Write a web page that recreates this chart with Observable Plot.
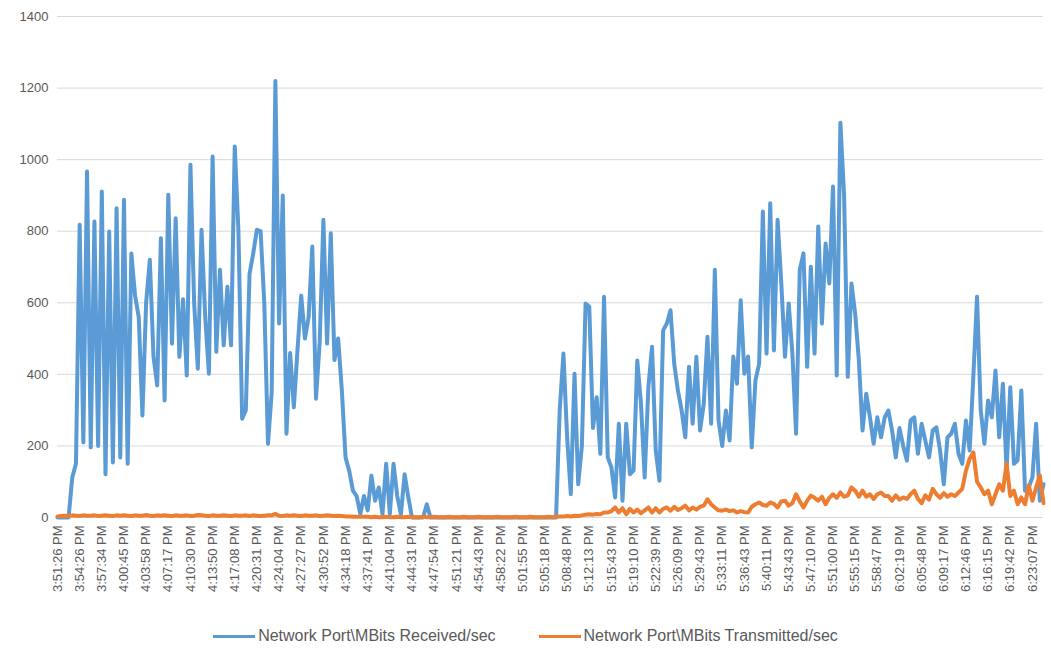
<!DOCTYPE html>
<html><head><meta charset="utf-8">
<script src="https://cdn.jsdelivr.net/npm/d3@7"></script>
<script src="https://cdn.jsdelivr.net/npm/@observablehq/plot@0.6"></script>
<style>
body{margin:0;background:#fff;font-family:"Liberation Sans",Arial,sans-serif;}
#legend{display:flex;justify-content:center;gap:43px;margin-top:12px;font-size:16px;color:#595959;line-height:18px;}
.item{display:flex;align-items:center;}
.sw{display:inline-block;width:42px;height:3px;margin-right:3px;}
</style></head><body>
<div id="chart"></div>
<div id="legend"></div>
<script>
const timeLabels = ["3:51:26 PM","3:54:26 PM","3:57:34 PM","4:00:45 PM","4:03:58 PM","4:07:17 PM","4:10:30 PM","4:13:50 PM","4:17:08 PM","4:20:31 PM","4:24:04 PM","4:27:27 PM","4:30:52 PM","4:34:18 PM","4:37:41 PM","4:41:04 PM","4:44:31 PM","4:47:54 PM","4:51:21 PM","4:54:43 PM","4:58:22 PM","5:01:55 PM","5:05:18 PM","5:08:48 PM","5:12:13 PM","5:15:43 PM","5:19:10 PM","5:22:39 PM","5:26:09 PM","5:29:43 PM","5:33:11 PM","5:36:43 PM","5:40:11 PM","5:43:43 PM","5:47:10 PM","5:51:00 PM","5:55:15 PM","5:58:47 PM","6:02:19 PM","6:05:48 PM","6:09:17 PM","6:12:46 PM","6:16:15 PM","6:19:42 PM","6:23:07 PM"];
const labelStep = 6;
const seriesNames = ["Network Port\\MBits Received/sec","Network Port\\MBits Transmitted/sec"];
const seriesColors = ["#5B9BD5","#ED7D31"];
const yTicks = [0,200,400,600,800,1000,1200,1400];

const received = [
0,0,0,0,112,150,818,210,967,196,
827,200,911,121,799,154,864,168,888,150,
738,620,560,285,600,720,449,369,780,327,
902,486,836,449,610,397,986,600,416,804,
560,402,1009,463,692,481,645,481,1037,800,
276,300,680,738,804,800,598,206,350,1220,
542,900,234,460,308,470,620,500,560,757,
332,490,832,486,794,440,500,355,168,130,
75,60,10,60,20,117,47,84,9,150,
10,150,60,9,121,56,0,0,0,0,
37,0,0,0,0,0,0,0,0,0,
0,0,0,0,0,0,0,0,0,0,
0,0,0,0,0,0,0,0,0,0,
0,0,0,0,0,0,300,458,224,65,
402,93,200,598,589,250,336,178,617,168,
140,56,262,47,262,121,131,439,318,112,
364,477,187,103,523,542,579,430,355,300,
224,421,262,449,243,318,505,262,692,271,
200,299,215,450,374,607,402,450,196,383,
430,855,458,878,467,832,654,449,598,458,
234,692,738,421,701,458,813,542,766,654,
925,397,1103,900,393,654,570,439,243,346,
280,206,280,224,280,299,243,168,250,200,
159,271,280,178,262,215,168,243,252,187,
93,224,234,262,178,150,271,187,393,617,
300,206,327,280,411,224,374,131,364,150,
160,355,75,84,112,262,47,93
];

const transmitted = [
3,4,5,4,6,5,4,6,5,5,
6,4,5,6,5,4,6,5,6,5,
4,6,5,5,7,5,4,6,5,6,
5,4,6,5,5,6,4,5,7,6,
5,4,6,5,5,6,5,4,6,5,
5,6,4,6,5,4,5,6,6,10,
5,4,6,5,6,5,4,6,5,5,
6,4,5,6,5,4,5,4,3,3,
2,2,2,2,
2,1,2,1,1,2,1,1,2,1,
1,2,1,1,1,2,1,1,2,1,
1,1,2,1,1,1,2,1,1,1,
2,1,1,1,1,2,1,1,1,1,
2,1,1,1,2,1,1,1,1,2,
1,2,
3,3,4,3,5,4,6,8,9,8,10,9,
14,14,18,28,14,26,9,24,14,22,
12,20,28,14,26,14,24,28,19,30,
21,26,33,20,28,22,30,33,51,37,
28,20,
19,22,18,20,14,18,15,14,30,37,
42,35,33,42,38,28,45,47,33,40,
65,45,28,47,61,55,47,58,37,55,
65,55,70,58,62,84,75,58,75,58,
65,52,65,70,60,
60,47,62,50,56,52,65,75,52,40,
62,50,80,65,55,68,58,65,60,
70,80,131,164,182,100,84,65,75,37,
65,93,75,150,60,75,37,56,37,90,
47,84,117,40
];

const rowsR = received.map((v, i) => ({i, v}));
const rowsT = transmitted.map((v, i) => ({i, v}));
const n = Math.max(received.length, transmitted.length);

const chart = Plot.plot({
  width: 1051,
  height: 615,
  marginTop: 16,
  marginBottom: 98,
  marginLeft: 57,
  marginRight: 8,
  style: {fontFamily: "'Liberation Sans', Arial, sans-serif", fontSize: "13px", color: "#595959", background: "#fff"},
  x: {domain: [0, n - 1], label: null},
  y: {domain: [0, 1400], label: null},
  marks: [
    Plot.gridY(yTicks, {stroke: "#d9d9d9", strokeOpacity: 1, strokeWidth: 1}),
    Plot.axisY(yTicks, {tickSize: 0, tickPadding: 9, fill: "#595959", label: null, tickFormat: d => String(d)}),
    Plot.axisX(timeLabels.map((_, k) => k * labelStep), {
      tickSize: 0, tickPadding: 8, tickRotate: -90, fill: "#595959", label: null,
      tickFormat: d => timeLabels[Math.round(d / labelStep)]
    }),
    Plot.line(rowsR, {x: "i", y: "v", stroke: seriesColors[0], strokeWidth: 4, strokeLinejoin: "round", strokeLinecap: "round"}),
    Plot.line(rowsT, {x: "i", y: "v", stroke: seriesColors[1], strokeWidth: 4, strokeLinejoin: "round", strokeLinecap: "round"})
  ]
});
document.getElementById("chart").appendChild(chart);

const legend = document.getElementById("legend");
seriesNames.forEach((name, k) => {
  const item = document.createElement("div");
  item.className = "item";
  const sw = document.createElement("span");
  sw.className = "sw";
  sw.style.background = seriesColors[k];
  const t = document.createElement("span");
  t.textContent = name;
  item.appendChild(sw);
  item.appendChild(t);
  legend.appendChild(item);
});
</script>
</body></html>
